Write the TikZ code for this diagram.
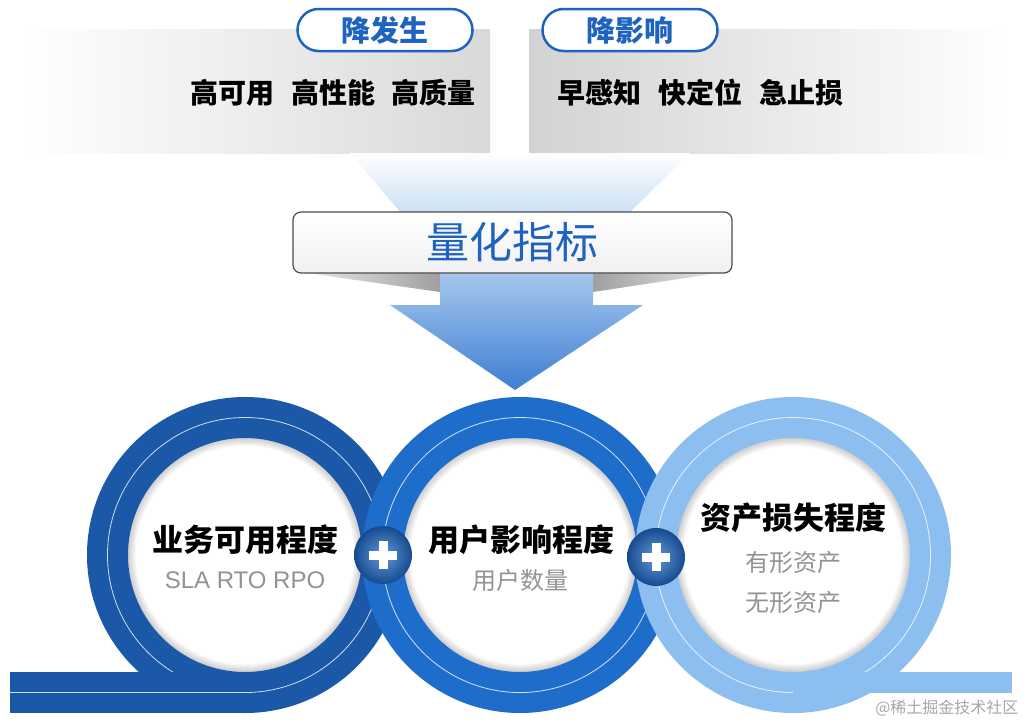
\documentclass[tikz,border=0pt]{standalone}
\usepackage{fontspec}
\newfontfamily\cjk{Noto Sans CJK SC}
\newfontfamily\arial{Liberation Sans}
\definecolor{ringA}{HTML}{1B58A8}
\definecolor{ringB}{HTML}{1F6DCB}
\definecolor{ringC}{HTML}{8DBEF0}
\definecolor{labelblue}{HTML}{1E63C0}
\definecolor{arrowtop}{HTML}{A6C8EE}
\definecolor{arrowbot}{HTML}{3F7ED2}
\definecolor{funnel}{HTML}{C9DFF5}
\begin{document}
\begin{tikzpicture}[x=1pt, y=-1pt,
        pill/.style={draw=labelblue, line width=2.5pt, fill=white, rounded corners=21pt,
            minimum width=175pt, minimum height=42pt, text=labelblue,
            font=\cjk\bfseries\fontsize{29}{29}\selectfont},
        goal/.style={text=black, font=\cjk\bfseries\fontsize{28}{28}\selectfont},
        title/.style={text=black, font=\cjk\bfseries\fontsize{31}{31}\selectfont},
        sub/.style={text=gray!85, font=\cjk\fontsize{24}{24}\selectfont},
        plus/.style={circle, minimum size=58pt, inner color=ringB!70!white, outer color=ringA!85!black},
        ring/.style={even odd rule},
    ]
    \useasboundingbox (0,0) rectangle (1032,724);
    % top panels
    \shade[left color=white, right color=gray!30] (22,29) rectangle (490,153);
    \shade[left color=gray!35, right color=white] (529,29) rectangle (1010,153);
    \node[pill] (down1) at (385,30) {降发生};
    \node[pill] (down2) at (630,30) {降影响};
    \node[goal] (g1) at (333,93) {高可用\hspace{17pt}高性能\hspace{17pt}高质量};
    \node[goal] (g2) at (700,93) {早感知\hspace{17pt}快定位\hspace{17pt}急止损};
    % funnel and arrow
    \shade[top color=white, bottom color=funnel] (350,153) -- (690,153) -- (628,214) -- (402,214) -- cycle;
    \shade[left color=gray!15, right color=gray!75] (300,272) -- (440,272) -- (440,292) -- cycle;
    \shade[left color=gray!75, right color=gray!15] (593,272) -- (725,272) -- (593,292) -- cycle;
    \shade[top color=arrowtop, bottom color=arrowbot] (440,272) -- (593,272) -- (593,305) -- (643,305)
        -- (515,390) -- (390,305) -- (440,305) -- cycle;
    \node[draw=gray!60!black, line width=1.2pt, rounded corners=8pt, top color=white, bottom color=gray!12,
        minimum width=439pt, minimum height=61pt, text=labelblue,
        font=\cjk\fontsize{43}{43}\selectfont] (metric) at (512.5,242.5) {量化指标};
    % rings
    \foreach \cx/\col in {245/ringA, 520/ringB, 793/ringC}{
        \fill[white] (\cx,555) circle (117pt);
        \foreach \w in {2,4,...,16}
            \draw[black, opacity=0.022, line width=\w pt] (\cx,555) circle (117pt);
        \fill[\col, ring] (\cx,555) circle (158pt) (\cx,555) circle (117pt);
        \draw[white, opacity=0.8, line width=0.8pt] (\cx,555) circle (137.5pt);
    }
    \fill[ringA] (10,672) rectangle (245,713);
    \draw[white, opacity=0.8, line width=0.8pt] (10,692.5) -- (245,692.5);
    \fill[ringC] (793,672) rectangle (1012,693);
    \node[plus] (p1) at (383,555) {};
    \node[plus] (p2) at (656,557) {};
    \foreach \p in {p1, p2}{
        \fill[white] ([xshift=-14pt, yshift=-4.5pt]\p.center) rectangle ([xshift=14pt, yshift=4.5pt]\p.center);
        \fill[white] ([xshift=-4.5pt, yshift=-14pt]\p.center) rectangle ([xshift=4.5pt, yshift=14pt]\p.center);
    }
    % labels
    \node[title] (t1) at (245,540) {业务可用程度};
    \node[sub, font=\arial\fontsize{24}{24}\selectfont] (s1) at (245,580) {SLA RTO RPO};
    \node[title] (t2) at (521,540) {用户影响程度};
    \node[sub] (s2) at (520,580) {用户数量};
    \node[title] (t3) at (793,518) {资产损失程度};
    \node[sub] (s3) at (793,562) {有形资产};
    \node[sub] (s4) at (793,602) {无形资产};
    \node[text=gray!70, anchor=east, font=\cjk\fontsize{16}{16}\selectfont] (mark) at (1022,708) {@稀土掘金技术社区};
\end{tikzpicture}
\end{document}
